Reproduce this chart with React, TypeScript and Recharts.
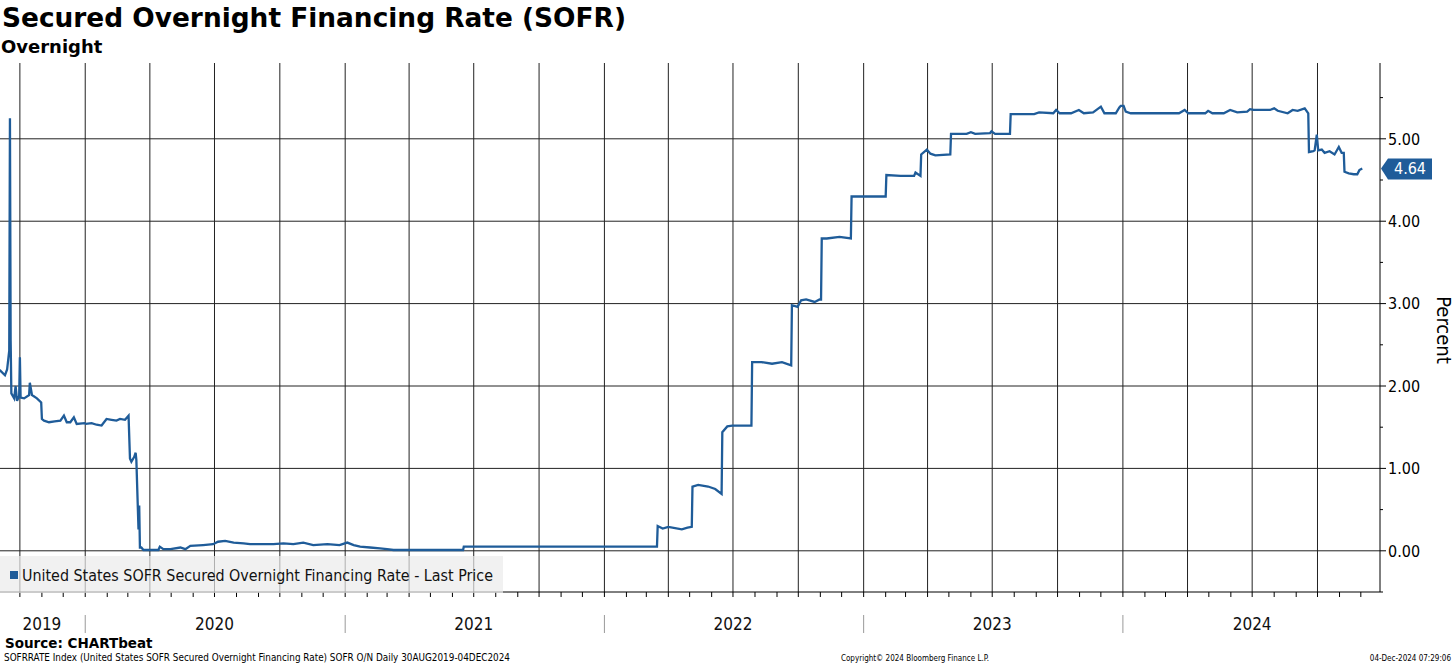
import React from 'react';
import { LineChart, Line, XAxis, YAxis, ReferenceLine } from 'recharts';

// SOFR daily fixings (key dates only)
const dates = [
  '2019-08-30', '2019-09-03', '2019-09-10', '2019-09-13', '2019-09-16', '2019-09-17', '2019-09-18',
  '2019-09-19', '2019-09-23', '2019-09-25', '2019-09-27', '2019-09-30', '2019-10-01', '2019-10-02',
  '2019-10-07', '2019-10-14', '2019-10-15', '2019-10-18', '2019-10-25', '2019-10-31', '2019-11-01',
  '2019-11-04', '2019-11-11', '2019-11-19', '2019-11-27', '2019-12-02', '2019-12-06', '2019-12-11',
  '2019-12-16', '2019-12-20', '2019-12-31', '2020-01-02', '2020-01-10', '2020-01-17', '2020-01-24',
  '2020-01-31', '2020-02-07', '2020-02-14', '2020-02-19', '2020-02-26', '2020-03-02', '2020-03-04',
  '2020-03-06', '2020-03-10', '2020-03-12', '2020-03-13', '2020-03-16', '2020-03-17', '2020-03-18',
  '2020-03-20', '2020-03-23', '2020-04-13', '2020-04-15', '2020-04-20', '2020-04-30', '2020-05-14',
  '2020-05-21', '2020-05-28', '2020-06-15', '2020-06-29', '2020-07-06', '2020-07-16', '2020-07-28',
  '2020-08-11', '2020-08-20', '2020-09-03', '2020-09-22', '2020-10-06', '2020-10-20', '2020-11-03',
  '2020-11-17', '2020-12-07', '2020-12-24', '2021-01-04', '2021-01-13', '2021-01-22', '2021-02-05',
  '2021-02-19', '2021-03-01', '2021-03-10', '2021-06-16', '2021-06-17', '2022-03-16', '2022-03-17',
  '2022-03-24', '2022-04-01', '2022-04-20', '2022-04-28', '2022-05-04', '2022-05-05', '2022-05-13',
  '2022-05-27', '2022-06-06', '2022-06-15', '2022-06-16', '2022-06-23', '2022-06-30', '2022-07-27',
  '2022-07-28', '2022-08-10', '2022-08-25', '2022-09-08', '2022-09-21', '2022-09-22', '2022-09-30',
  '2022-10-05', '2022-10-12', '2022-10-24', '2022-10-31', '2022-11-02', '2022-11-03', '2022-11-10',
  '2022-11-28', '2022-12-14', '2022-12-15', '2023-01-05', '2023-02-01', '2023-02-02', '2023-02-22',
  '2023-03-13', '2023-03-15', '2023-03-22', '2023-03-23', '2023-03-31', '2023-04-05', '2023-04-12',
  '2023-05-03', '2023-05-04', '2023-05-26', '2023-06-01', '2023-06-07', '2023-06-28', '2023-06-30',
  '2023-07-05', '2023-07-26', '2023-07-27', '2023-08-29', '2023-09-05', '2023-09-25', '2023-09-29',
  '2023-10-04', '2023-10-20', '2023-10-31', '2023-11-07', '2023-11-20', '2023-12-01', '2023-12-06',
  '2023-12-22', '2023-12-27', '2023-12-29', '2024-01-02', '2024-01-05', '2024-01-12', '2024-02-15',
  '2024-03-01', '2024-03-20', '2024-03-28', '2024-04-02', '2024-04-26', '2024-04-30', '2024-05-06',
  '2024-05-22', '2024-05-31', '2024-06-10', '2024-06-24', '2024-06-28', '2024-07-03', '2024-07-17',
  '2024-07-26', '2024-08-01', '2024-08-06', '2024-08-20', '2024-08-27', '2024-09-03', '2024-09-13',
  '2024-09-18', '2024-09-19', '2024-09-25', '2024-09-27', '2024-09-30', '2024-10-02', '2024-10-07',
  '2024-10-11', '2024-10-18', '2024-10-25', '2024-10-31', '2024-11-04', '2024-11-07', '2024-11-08',
  '2024-11-14', '2024-11-21', '2024-11-26', '2024-11-29', '2024-12-03',
];

const rates = [
  2.2, 2.19, 2.13, 2.2, 2.43, 5.25, 2.55,
  1.91, 1.85, 2.0, 1.82, 1.88, 2.35, 1.86,
  1.85, 1.89, 2.04, 1.89, 1.85, 1.8, 1.6,
  1.58, 1.56, 1.57, 1.58, 1.64, 1.56, 1.56,
  1.62, 1.54, 1.55, 1.54, 1.55, 1.53, 1.52,
  1.6, 1.59, 1.58, 1.6, 1.59, 1.64, 1.12,
  1.08, 1.14, 1.19, 1.1, 0.26, 0.55, 0.04,
  0.04, 0.01, 0.01, 0.05, 0.02, 0.02, 0.04,
  0.02, 0.06, 0.07, 0.08, 0.11, 0.12, 0.1,
  0.09, 0.08, 0.08, 0.08, 0.09, 0.08, 0.1,
  0.07, 0.08, 0.07, 0.1, 0.07, 0.05, 0.04,
  0.03, 0.02, 0.01, 0.01, 0.05, 0.05, 0.3,
  0.27, 0.29, 0.26, 0.28, 0.29, 0.78, 0.8,
  0.78, 0.75, 0.69, 1.44, 1.51, 1.52, 1.52,
  2.29, 2.29, 2.27, 2.29, 2.25, 2.98, 2.96,
  3.04, 3.05, 3.02, 3.05, 3.05, 3.79, 3.79,
  3.81, 3.79, 4.3, 4.3, 4.3, 4.56, 4.55,
  4.55, 4.59, 4.55, 4.81, 4.87, 4.82, 4.8,
  4.81, 5.06, 5.06, 5.08, 5.06, 5.07, 5.09,
  5.06, 5.06, 5.3, 5.3, 5.32, 5.31, 5.35,
  5.31, 5.31, 5.35, 5.31, 5.32, 5.39, 5.31,
  5.31, 5.38, 5.4, 5.4, 5.33, 5.31, 5.31,
  5.31, 5.31, 5.35, 5.31, 5.31, 5.34, 5.31,
  5.31, 5.35, 5.32, 5.33, 5.36, 5.35, 5.35,
  5.35, 5.37, 5.34, 5.31, 5.35, 5.34, 5.37,
  5.31, 4.84, 4.85, 4.86, 5.05, 4.86, 4.87,
  4.83, 4.85, 4.81, 4.9, 4.83, 4.83, 4.6,
  4.58, 4.57, 4.57, 4.62, 4.64,
];

const yearLabels = ['2019', '2020', '2021', '2022', '2023', '2024'];
const yearLabelAt = ['2019-11-01', '2020-07-01', '2021-07-01', '2022-07-01', '2023-07-01', '2024-07-01'];
const yTicks = [-0.5, 0, 0.5, 1, 1.5, 2, 2.5, 3, 3.5, 4, 4.5, 5, 5.5];
const yGrid = [0, 1, 2, 3, 4, 5];
const lastValue = 4.64;

const BLUE = '#1f5c99';
const FONT = "'DejaVu Sans Condensed', 'Noto Sans', sans-serif";
const BOLD = "'DejaVu Sans', Verdana, sans-serif";

const ts = (s: string) => Date.parse(s + 'T00:00:00Z');
const X_MIN = ts('2019-09-03');
const X_MAX = ts('2024-12-28');

const data = dates.map((d, i) => ({ t: ts(d), v: rates[i] }));

const monthTicks: number[] = [];
for (let y = 2019; y <= 2024; y++) {
  for (let m = 0; m < 12; m++) {
    const t = Date.UTC(y, m, 1);
    if (t >= X_MIN && t <= X_MAX) monthTicks.push(t);
  }
}
const quarterTicks = monthTicks.filter((t) => new Date(t).getUTCMonth() % 3 === 0);
const labelTimes = yearLabelAt.map(ts);

function XTick(props: any) {
  const { x, y, payload } = props;
  const t = payload.value;
  const idx = labelTimes.indexOf(t);
  const yearStart = new Date(t).getUTCMonth() === 0;
  return (
    <g>
      <line x1={x} x2={x} y1={y} y2={y + 5} stroke="#000" />
      {yearStart && <line x1={x} x2={x} y1={y + 23} y2={y + 41} stroke="#999" />}
      {idx >= 0 && (
        <text x={x} y={y + 38} textAnchor="middle" fontSize={17} fontFamily={FONT} fill="#111">
          {yearLabels[idx]}
        </text>
      )}
    </g>
  );
}

function YTick(props: any) {
  const { x, y, payload } = props;
  const v = payload.value;
  const major = Number.isInteger(v);
  return (
    <g>
      <line x1={x} x2={x + (major ? 6 : 3)} y1={y} y2={y} stroke="#000" />
      {major && (
        <text x={x + 8} y={y} dy="0.36em" fontSize={16} fontFamily={FONT} fill="#000">
          {v.toFixed(2)}
        </text>
      )}
    </g>
  );
}

function EndTag(props: any) {
  const vb = props.viewBox;
  if (!vb) return null;
  const x = vb.x + vb.width;
  const y = vb.y;
  return (
    <g>
      <polygon
        points={`${x + 1},${y} ${x + 8},${y - 10} ${x + 52},${y - 10} ${x + 52},${y + 11} ${x + 8},${y + 11}`}
        fill={BLUE}
      />
      <text x={x + 30} y={y} dy="0.36em" textAnchor="middle" fill="#fff" fontSize={16} fontFamily={FONT}>
        {lastValue.toFixed(2)}
      </text>
    </g>
  );
}

export default function App() {
  return (
    <div style={{ position: 'relative', width: 1456, height: 666, background: '#fff', overflow: 'hidden' }}>
      <style>{'body{margin:0}'}</style>
      <LineChart width={1456} height={666} data={data} margin={{ top: 63, right: 0, bottom: 0, left: 0 }}>
        <XAxis
          dataKey="t"
          type="number"
          domain={[X_MIN, X_MAX]}
          allowDataOverflow
          ticks={monthTicks}
          interval={0}
          tick={<XTick />}
          tickLine={false}
          tickSize={0}
          tickMargin={0}
          height={74}
          axisLine={{ stroke: '#000' }}
        />
        <YAxis
          orientation="right"
          type="number"
          domain={[-0.5, 5.92]}
          allowDataOverflow
          ticks={yTicks}
          interval={0}
          tick={<YTick />}
          tickLine={false}
          tickSize={0}
          tickMargin={0}
          width={76}
          axisLine={{ stroke: '#000' }}
        />
        {quarterTicks.map((t) => (
          <ReferenceLine key={`q${t}`} x={t} stroke="#222" strokeWidth={1} />
        ))}
        {yGrid.map((v) => (
          <ReferenceLine key={`g${v}`} y={v} stroke="#222" strokeWidth={1} />
        ))}
        <Line
          type="linear"
          dataKey="v"
          stroke={BLUE}
          strokeWidth={2.3}
          dot={false}
          isAnimationActive={false}
        />
        <ReferenceLine y={lastValue} stroke="none" label={<EndTag />} />
      </LineChart>

      <svg
        width={1456}
        height={666}
        style={{ position: 'absolute', left: 0, top: 0, pointerEvents: 'none' }}
      >
        <text x={2} y={27} fontSize={26.4} fontWeight="bold" fontFamily={BOLD} fill="#000">
          Secured Overnight Financing Rate (SOFR)
        </text>
        <text x={1} y={53} fontSize={18} fontWeight="bold" fontFamily={BOLD} fill="#000">
          Overnight
        </text>

        <rect x={0} y={556} width={503} height={37} fill="#ebebeb" fillOpacity={0.7} />
        <rect x={10} y={571} width={8} height={8} fill={BLUE} />
        <text
          x={22}
          y={581}
          fontSize={15.8}
          fontFamily={FONT}
          fill="#111"
          textLength={471}
          lengthAdjust="spacingAndGlyphs"
        >
          United States SOFR Secured Overnight Financing Rate - Last Price
        </text>

        <text
          x={1437}
          y={330}
          transform="rotate(90 1437 330)"
          textAnchor="middle"
          fontSize={20}
          fontFamily={FONT}
          fill="#000"
        >
          Percent
        </text>

        <text x={5} y={648} fontSize={13.5} fontWeight="bold" fontFamily={BOLD} fill="#000">
          Source: CHARTbeat
        </text>
        <text x={4} y={661} fontSize={9.8} fontFamily={FONT} fill="#000" textLength={506} lengthAdjust="spacingAndGlyphs">
          SOFRRATE Index (United States SOFR Secured Overnight Financing Rate) SOFR O/N  Daily 30AUG2019-04DEC2024
        </text>
        <text x={915} y={661} textAnchor="middle" fontSize={8} fontFamily={FONT} fill="#000">
          Copyright© 2024 Bloomberg Finance L.P.
        </text>
        <text x={1451} y={661} textAnchor="end" fontSize={8} fontFamily={FONT} fill="#000">
          04-Dec-2024 07:29:06
        </text>
      </svg>
    </div>
  );
}
